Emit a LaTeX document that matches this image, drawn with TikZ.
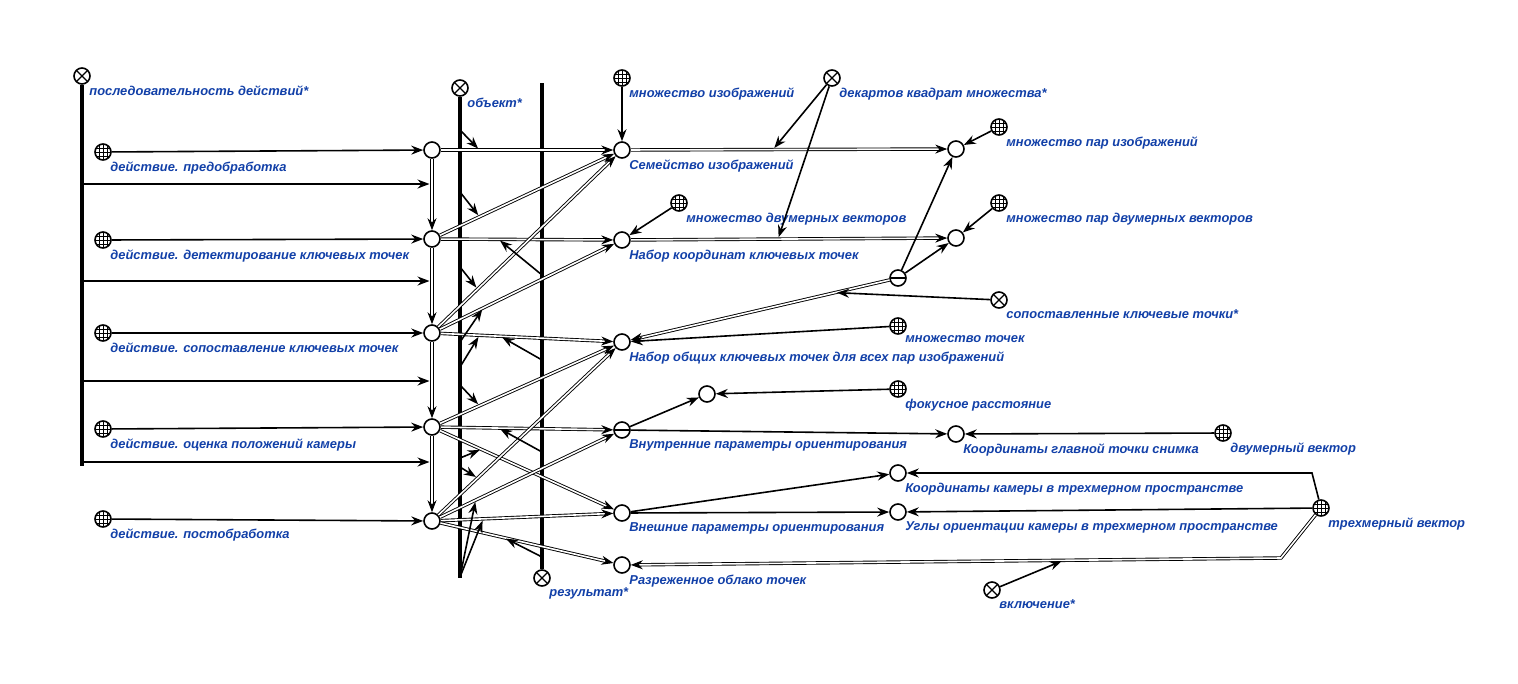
\documentclass[tikz,border=0pt]{standalone}
\usepackage{fontspec}
\setmainfont{Liberation Sans}
\usepackage{tikz}
\usetikzlibrary{arrows.meta,calc}
\usepackage{xcolor}
\definecolor{scblue}{HTML}{1240A8}
\definecolor{ink}{HTML}{000000}

\begin{document}
\begin{tikzpicture}[x=1pt,y=-1pt,
  scnode/.style={circle,draw=ink,line width=1.6pt,minimum size=16pt,inner sep=0pt,fill=white},
  scclass/.style={scnode,path picture={
    \foreach \gp in {-4,0,4}{
      \draw[line width=0.9pt] ([xshift=\gp pt]path picture bounding box.north) -- ([xshift=\gp pt]path picture bounding box.south);
      \draw[line width=0.9pt] ([yshift=\gp pt]path picture bounding box.west) -- ([yshift=\gp pt]path picture bounding box.east);}}},
  scrole/.style={scnode,path picture={
    \draw[line width=1.3pt] (path picture bounding box.north west) -- (path picture bounding box.south east);
    \draw[line width=1.3pt] (path picture bounding box.north east) -- (path picture bounding box.south west);}},
  scneg/.style={scnode,path picture={
    \draw[line width=1.8pt] (path picture bounding box.west) -- (path picture bounding box.east);}},
  sclabel/.style={font=\fontsize{12.9}{15}\selectfont\bfseries\itshape,text=scblue,inner sep=1pt,yshift=-2.5pt},
  scarc/.style={line width=1.6pt,-{Stealth[length=12pt,width=9pt,inset=4pt]}},
  scpair/.style={double,double distance=1.6pt,line width=0.9pt,-{Stealth[length=12pt,width=9pt,inset=4pt]}},
  scbus/.style={line width=4.8pt,line cap=butt},
]
\useasboundingbox (0,0) rectangle (1518,683);

% role nodes and buses
\node[scrole,label={[sclabel]below right:{последовательность действий*}}] (seq) at (82,76) {};
\node[scrole,label={[sclabel]below right:{объект*}}] (obj) at (460,88) {};
\node[scrole,label={[sclabel]below right:{результат*}}] (res) at (542,578) {};
\coordinate (seqend) at (82,466);
\coordinate (objend) at (460,578);
\coordinate (restop) at (542,83);
\draw[scbus] (seq.south) -- (seqend);
\draw[scbus] (obj.south) -- (objend);
\draw[scbus] (res.north) -- (restop);

% action classes and actions
\node[scclass,label={[sclabel]below right:{действие. предобработка}}] (a1) at (103,152) {};
\node[scclass,label={[sclabel]below right:{действие. детектирование ключевых точек}}] (a2) at (103,240) {};
\node[scclass,label={[sclabel]below right:{действие. сопоставление ключевых точек}}] (a3) at (103,333) {};
\node[scclass,label={[sclabel]below right:{действие. оценка положений камеры}}] (a4) at (103,429) {};
\node[scclass,label={[sclabel]below right:{действие. постобработка}}] (a5) at (103,519) {};
\node[scnode] (n1) at (432,150) {};
\node[scnode] (n2) at (432,239) {};
\node[scnode] (n3) at (432,333) {};
\node[scnode] (n4) at (432,427) {};
\node[scnode] (n5) at (432,521) {};

% arguments
\node[scnode,label={[sclabel]below right:{Семейство изображений}}] (r1) at (622,150) {};
\node[scnode,label={[sclabel]below right:{Набор координат ключевых точек}}] (r2) at (622,240) {};
\node[scnode,label={[sclabel]below right:{Набор общих ключевых точек для всех пар изображений}}] (r3) at (622,342) {};
\node[scneg,label={[sclabel]below right:{Внутренние параметры ориентирования}}] (r4) at (622,430) {};
\node[scnode,label={[sclabel]below right:{Внешние параметры ориентирования}}] (r5) at (622,513) {};
\node[scnode,label={[sclabel]below right:{Разреженное облако точек}}] (r6) at (622,565) {};

\node[scclass,label={[sclabel]below right:{множество изображений}}] (cimg) at (622,78) {};
\node[scrole,label={[sclabel]below right:{декартов квадрат множества*}}] (dec) at (832,78) {};
\node[scnode] (p1) at (956,149) {};
\node[scclass,label={[sclabel]below right:{множество пар изображений}}] (cpimg) at (999,127) {};
\node[scclass,label={[sclabel]below right:{множество двумерных векторов}}] (cvset) at (679,203) {};
\node[scnode] (p2) at (956,238) {};
\node[scclass,label={[sclabel]below right:{множество пар двумерных векторов}}] (cpvec) at (999,203) {};
\node[scneg] (m) at (898,278) {};
\node[scrole,label={[sclabel]below right:{сопоставленные ключевые точки*}}] (match) at (999,300) {};
\node[scclass,label={[sclabel]below right:{множество точек}}] (cpts) at (898,326) {};
\node[scnode] (f) at (707,394) {};
\node[scclass,label={[sclabel]below right:{фокусное расстояние}}] (cfoc) at (898,389) {};
\node[scnode,label={[sclabel]below right:{Координаты главной точки снимка}}] (c) at (956,434) {};
\node[scclass,label={[sclabel]below right:{двумерный вектор}}] (cvec2) at (1223,433) {};
\node[scnode,label={[sclabel]below right:{Координаты камеры в трехмерном пространстве}}] (k) at (898,473) {};
\node[scnode,label={[sclabel]below right:{Углы ориентации камеры в трехмерном пространстве}}] (u) at (898,512) {};
\node[scclass,label={[sclabel]below right:{трехмерный вектор}}] (cvec3) at (1321,508) {};
\node[scrole,label={[sclabel]below right:{включение*}}] (incl) at (992,590) {};
\coordinate (kbend) at (1312,473);
\coordinate (vbend) at (1281,558);

% action classes to actions, sequence
\foreach \i in {1,...,5} \draw[scarc] (a\i) -- (n\i);
\foreach \i/\j in {1/2,2/3,3/4,4/5} \draw[scpair] (n\i) -- (n\j);
\foreach \i/\y in {1/184,2/281,3/381,4/462}{
  \coordinate (sb\i) at (82,\y);
  \draw[scarc,shorten >=2.5pt] (sb\i) -- (sb\i -| n1);}

% actions to arguments
\foreach \s/\t in {n1/r1,n2/r1,n2/r2,n3/r1,n3/r2,n3/r3,n4/r3,n4/r4,n4/r5,n5/r3,n5/r4,n5/r5,n5/r6}
  \draw[scpair] (\s) -- (\t);

% object and result roles
\foreach \s/\t/\p/\y [count=\i] in {n1/r1/0.25/130,n2/r1/0.25/192,n3/r1/0.24/267,n3/r2/0.27/342,
    n3/r3/0.25/367,n4/r3/0.25/385,n4/r5/0.26/458,n5/r3/0.24/467,n5/r5/0.27/577,n5/r4/0.23/577}{
  \coordinate (ob\i) at (460,\y);
  \draw[scarc,shorten >=2pt] (ob\i) -- ($(\s)!\p!(\t)$);}
\foreach \s/\t/\p/\y [count=\i] in {n2/r2/0.35/275,n3/r3/0.36/360,n4/r4/0.35/452,n5/r6/0.38/557}{
  \coordinate (rb\i) at (542,\y);
  \draw[scarc,shorten >=2pt] (rb\i) -- ($(\s)!\p!(\t)$);}

% right part
\draw[scarc] (cimg) -- (r1);
\draw[scpair] (r1) -- (p1);
\draw[scpair] (r2) -- (p2);
\draw[scarc,shorten >=2pt] (dec) -- ($(r1)!0.452!(p1)$);
\draw[scarc,shorten >=2pt] (dec) -- ($(r2)!0.467!(p2)$);
\draw[scarc] (cpimg) -- (p1);
\draw[scarc] (cpvec) -- (p2);
\draw[scarc] (cvset) -- (r2);
\draw[scarc] (m) -- (p1);
\draw[scarc] (m) -- (p2);
\draw[scpair] (m) -- (r3);
\draw[scarc,shorten >=2pt] (match) -- ($(m)!0.228!(r3)$);
\draw[scarc] (cpts) -- (r3);
\draw[scarc] (r4) -- (f);
\draw[scarc] (cfoc) -- (f);
\draw[scarc] (r4) -- (c);
\draw[scarc] (cvec2) -- (c);
\draw[scarc] (r5) -- (k);
\draw[scarc] (r5) -- (u);
\draw[scarc] (cvec3) -- (kbend) -- (k);
\draw[scarc] (cvec3) -- (u);
\draw[scpair] (cvec3) -- (vbend) -- (r6);
\draw[scarc,shorten >=2pt] (incl) -- ($(vbend)!0.33!(r6)$);
\end{tikzpicture}
\end{document}
